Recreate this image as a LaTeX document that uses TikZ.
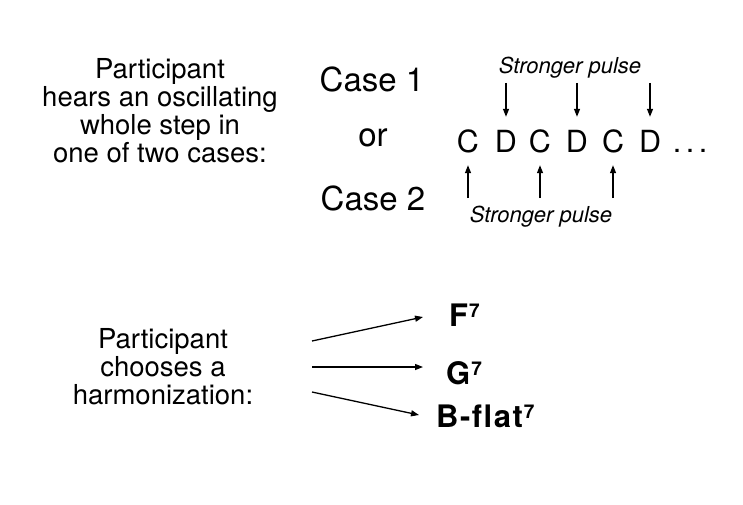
\documentclass[tikz,border=0pt]{standalone}
\usepackage{fontspec}
\setmainfont{TeX Gyre Heros}
\usetikzlibrary{arrows.meta}
\tikzset{
  lbl/.style={inner sep=0pt, align=center, anchor=north, font=\fontsize{27.5}{28}\selectfont},
  casetxt/.style={inner sep=0pt, anchor=base, font=\fontsize{33}{36}\selectfont},
  note/.style={inner xsep=0pt, anchor=base, font=\fontsize{30.5}{34}\selectfont,
    text height=22pt, text depth=0pt, inner ysep=13pt},
  pulse/.style={inner sep=0pt, anchor=base, font=\fontsize{22}{24}\itshape\selectfont},
  chord/.style={inner sep=0pt, anchor=base west, font=\bfseries\fontsize{31}{34}\selectfont},
  arr/.style={line width=1.3pt, -{Triangle[length=8pt,width=6pt]}},
}
\newcommand{\supsev}{\kern1pt\raisebox{9pt}{\fontsize{19}{19}\selectfont 7}}
\begin{document}
\begin{tikzpicture}[x=1pt,y=-1pt]
\path[fill=white,use as bounding box] (0,0) rectangle (743,504);
% top left text
\node[lbl] (hear) at (160,58) {Participant\\hears an oscillating\\whole step in\\one of two cases:};
% cases
\node[casetxt] (case1) at (372,91) {Case 1};
\node[casetxt] (or) at (373,146) {or};
\node[casetxt] (case2) at (373,210) {Case 2};
% note row
\node[note] (c1) at (468,152) {C};
\node[note] (d1) at (506,152) {D};
\node[note] (c2) at (540,152) {C};
\node[note] (d2) at (577,152) {D};
\node[note] (c3) at (613,152) {C};
\node[note] (d3) at (650,152) {D};
\node[note] (dots) at (690,152) {.\hspace{4.5pt}.\hspace{4.5pt}.};
% pulse labels
\node[pulse] (ptop) at (570,73) {Stronger pulse};
\node[pulse] (pbot) at (541,222) {Stronger pulse};
% pulse arrows
\foreach \n in {d1,d2,d3}{
  \draw[arr] ([yshift=34pt]\n.north) -- (\n.north);
}
\foreach \n in {c1,c2,c3}{
  \draw[arr] ([yshift=-33pt]\n.south) -- (\n.south);
}
% bottom left text
\node[lbl] (choose) at (163,328) {Participant\\chooses a\\harmonization:};
% chords
\node[chord] (F) at (449,326) {F\supsev};
\node[chord] (G) at (446,384) {G\supsev};
\node[chord] (B) at (436,427) {B\kern1.5pt-\kern1.5pt f\kern1.5pt l\kern1.5pt a\kern1.5pt t\supsev};
% choice arrows
\coordinate (s1) at (312,341);
\coordinate (s2) at (312,367);
\coordinate (s3) at (312,392);
\coordinate (e1) at (423,317);
\coordinate (e2) at (423,367);
\coordinate (e3) at (419,415);
\draw[arr] (s1) -- (e1);
\draw[arr] (s2) -- (e2);
\draw[arr] (s3) -- (e3);
\end{tikzpicture}
\end{document}
